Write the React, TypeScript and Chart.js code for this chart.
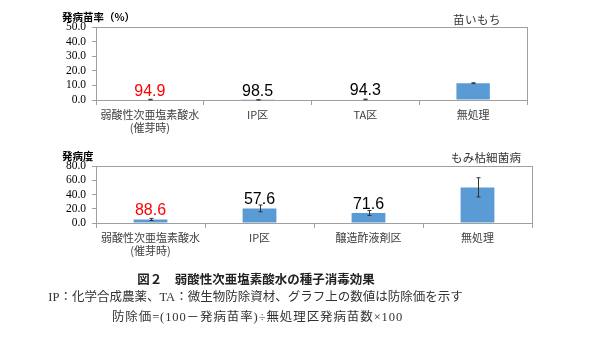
import React, { useEffect, useRef } from "react";
import { Chart, registerables } from "chart.js";

Chart.register(...registerables);

// ---- Data ----
const topCategories: (string | string[])[] = [["弱酸性次亜塩素酸水", "(催芽時)"], "IP区", "TA区", "無処理"];
const topValues = [0.3, 0.1, 0.4, 11.5];
const topErrors = [0.2, 0.1, 0.2, 0.3];
const topLabels = ["94.9", "98.5", "94.3", ""];
const topLabelColors = ["#FF0000", "#000000", "#000000", "#000000"];
const topTicks = { min: 0, max: 50, step: 10 };

const bottomCategories: (string | string[])[] = [["弱酸性次亜塩素酸水", "(催芽時)"], "IP区", "醸造酢液剤区", "無処理"];
const bottomValues = [5.0, 20.5, 14.0, 50.0];
const bottomErrors = [1.5, 4.8, 3.5, 13.5];
const bottomLabels = ["88.6", "57.6", "71.6", ""];
const bottomLabelColors = ["#FF0000", "#000000", "#000000", "#000000"];
const bottomTicks = { min: 0, max: 80, step: 20 };

const AXIS_COLOR = "#A0A0A0";
const BAR_COLOR = "#5B9BD5";

const boxPlugin = {
  id: "boxPlugin",
  afterDraw(chart: any) {
    const { ctx, chartArea: a } = chart;
    ctx.save();
    ctx.strokeStyle = AXIS_COLOR;
    ctx.lineWidth = 1;
    ctx.beginPath();
    ctx.moveTo(a.left, Math.round(a.top) + 0.5);
    ctx.lineTo(a.right, Math.round(a.top) + 0.5);
    ctx.moveTo(Math.round(a.right) + 0.5, a.top);
    ctx.lineTo(Math.round(a.right) + 0.5, a.bottom);
    ctx.stroke();
    ctx.restore();
  },
};

const errLabelPlugin = {
  id: "errLabelPlugin",
  afterDatasetsDraw(chart: any) {
    const opts = chart.options.plugins.errLabelPlugin;
    const { ctx } = chart;
    const meta = chart.getDatasetMeta(0);
    const y = chart.scales.y;
    const values: number[] = chart.data.datasets[0].data;
    ctx.save();
    meta.data.forEach((bar: any, i: number) => {
      const v = values[i];
      const e = opts.errors[i];
      const x = Math.round(bar.x) + 0.5;
      const yt = y.getPixelForValue(v + e);
      const yb = y.getPixelForValue(Math.max(0, v - e));
      ctx.strokeStyle = "#333";
      ctx.lineWidth = 1;
      ctx.beginPath();
      ctx.moveTo(x, yt);
      ctx.lineTo(x, yb);
      ctx.moveTo(x - 2, yt);
      ctx.lineTo(x + 2, yt);
      ctx.moveTo(x - 2, yb);
      ctx.lineTo(x + 2, yb);
      ctx.stroke();
      const lbl = opts.labels[i];
      if (lbl) {
        ctx.fillStyle = opts.colors[i];
        ctx.font = "16px 'Liberation Sans', Arial, sans-serif";
        ctx.textAlign = "center";
        ctx.textBaseline = "alphabetic";
        ctx.fillText(lbl, bar.x, y.getPixelForValue(v) - 4);
      }
    });
    ctx.restore();
  },
};

type PanelProps = {
  categories: (string | string[])[];
  values: number[];
  errors: number[];
  labels: string[];
  colors: string[];
  ticks: { min: number; max: number; step: number };
  height: number;
  padTop: number;
  padRight: number;
  xHeight: number;
};

function Panel(p: PanelProps) {
  const ref = useRef<HTMLCanvasElement>(null);
  useEffect(() => {
    if (!ref.current) return;
    const chart = new Chart(ref.current, {
      type: "bar",
      data: {
        labels: p.categories as any,
        datasets: [
          {
            data: p.values,
            backgroundColor: BAR_COLOR,
            borderWidth: 0,
            barPercentage: 0.31,
            categoryPercentage: 1,
          },
        ],
      },
      options: {
        animation: false,
        responsive: false,
        maintainAspectRatio: false,
        layout: { padding: { left: 0, right: p.padRight, top: p.padTop, bottom: 0 } },
        plugins: {
          legend: { display: false },
          tooltip: { enabled: false },
          errLabelPlugin: { errors: p.errors, labels: p.labels, colors: p.colors },
        } as any,
        scales: {
          x: {
            afterFit: (s: any) => {
              s.height = p.xHeight;
            },
            border: { display: true, color: AXIS_COLOR },
            grid: { offset: true, drawOnChartArea: false, drawTicks: true, tickLength: 5, color: AXIS_COLOR },
            ticks: {
              color: "#404040",
              font: { family: "'Noto Sans CJK JP', sans-serif", size: 11, lineHeight: 1.2 },
              padding: 3,
              maxRotation: 0,
              autoSkip: false,
            },
          },
          y: {
            min: p.ticks.min,
            max: p.ticks.max,
            afterFit: (s: any) => {
              s.width = 96;
            },
            border: { display: true, color: AXIS_COLOR },
            grid: { drawOnChartArea: false, drawTicks: true, tickLength: 4, color: AXIS_COLOR },
            ticks: {
              stepSize: p.ticks.step,
              autoSkip: false,
              color: "#000",
              padding: 6,
              font: { family: "Liberation Serif, serif", size: 11.5, lineHeight: 1 },
              callback: (v: any) => Number(v).toFixed(1),
            },
          },
        },
      },
      plugins: [boxPlugin, errLabelPlugin],
    });
    return () => chart.destroy();
  }, []);
  return <canvas ref={ref} width={600} height={p.height} style={{ display: "block", width: 600, height: p.height }} />;
}

const txt = (extra: React.CSSProperties): React.CSSProperties => ({
  position: "absolute",
  whiteSpace: "nowrap",
  lineHeight: 1,
  ...extra,
});

export default function App() {
  const sans = "'Noto Sans CJK JP', sans-serif";
  const serif = "'Liberation Serif', 'Noto Sans CJK JP', serif";
  return (
    <div style={{ position: "absolute", left: 0, top: 0, width: 600, height: 337, background: "#fff", overflow: "hidden" }}>
      <div style={{ position: "absolute", left: 0, top: 0 }}>
        <Panel
          categories={topCategories}
          values={topValues}
          errors={topErrors}
          labels={topLabels}
          colors={topLabelColors}
          ticks={topTicks}
          height={140}
          padTop={27}
          padRight={73}
          xHeight={40}
        />
      </div>
      <div style={{ position: "absolute", left: 0, top: 140 }}>
        <Panel
          categories={bottomCategories}
          values={bottomValues}
          errors={bottomErrors}
          labels={bottomLabels}
          colors={bottomLabelColors}
          ticks={bottomTicks}
          height={130}
          padTop={26}
          padRight={68}
          xHeight={47}
        />
      </div>
      <div style={txt({ left: 62, top: 12, fontFamily: sans, fontSize: 10.5, fontWeight: 700, color: "#000" })}>発病苗率（%）</div>
      <div style={txt({ left: 453, top: 14, fontFamily: sans, fontSize: 11.5, color: "#333", letterSpacing: 0.5 })}>苗いもち</div>
      <div style={txt({ left: 62, top: 151, fontFamily: sans, fontSize: 10.5, fontWeight: 700, color: "#000" })}>発病度</div>
      <div style={txt({ left: 451, top: 152, fontFamily: sans, fontSize: 11.5, color: "#333", letterSpacing: 0.2 })}>もみ枯細菌病</div>
      <div style={txt({ left: 0, width: 512, textAlign: "center", top: 273, fontFamily: sans, fontSize: 12.5, fontWeight: 700, color: "#222" })}>図２　弱酸性次亜塩素酸水の種子消毒効果</div>
      <div style={txt({ left: 0, width: 511, textAlign: "center", top: 291, height: 14, fontFamily: serif, fontSize: 12.5, color: "#333" })}>IP：化学合成農薬、TA：微生物防除資材、グラフ上の数値は防除価を示す</div>
      <div style={txt({ left: 0, width: 515, textAlign: "center", top: 311, height: 14, fontFamily: serif, fontSize: 12.5, color: "#333", letterSpacing: 0.9 })}>防除価=(100－発病苗率)÷無処理区発病苗数×100</div>
    </div>
  );
}
